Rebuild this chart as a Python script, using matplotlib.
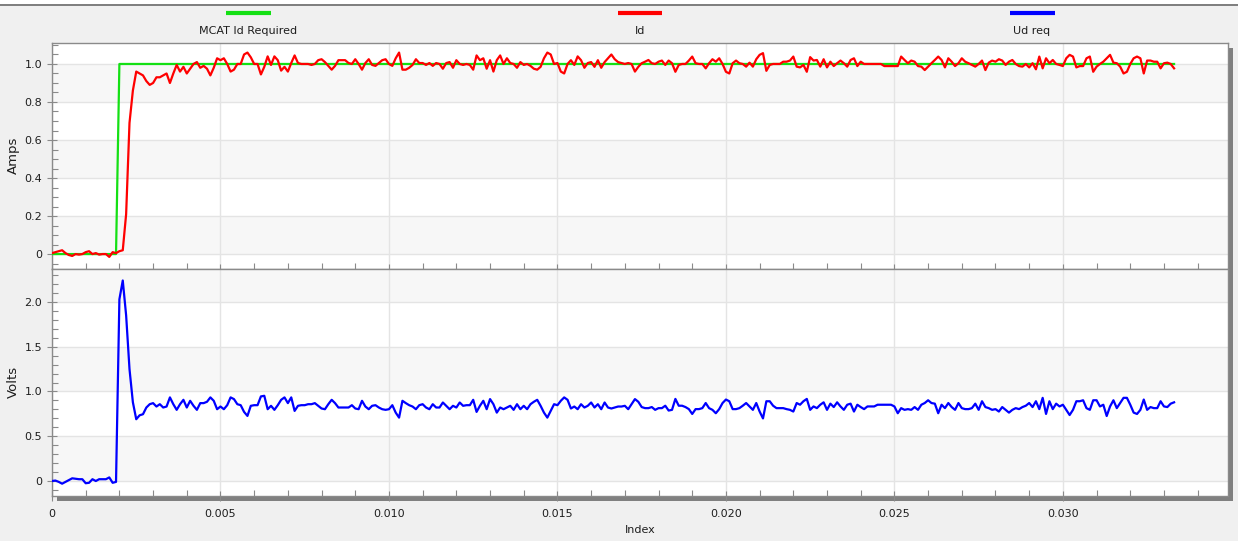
import numpy as np
import matplotlib
matplotlib.use("Agg")
import matplotlib.pyplot as plt
from matplotlib.patches import Rectangle
from matplotlib.lines import Line2D
from matplotlib.ticker import MultipleLocator, FuncFormatter

# ---------------------------------------------------------------- data
sample_period = 0.0001  # s between logged samples

# commanded d-axis current (setpoint changes)
id_required_times = [0.0, 0.0019, 0.0020, 0.0333]
id_required_levels = [0.0, 0.0, 1.0, 1.0]

# measured d-axis current [A]
id_measured = [
    0.005, 0.010, 0.015, 0.020, 0.005, -0.005, -0.010, 0.000, -0.003, 0.000,
    0.010, 0.015, 0.000, 0.005, -0.003, 0.000, 0.000, -0.015, 0.010, 0.005,
    0.015, 0.020,
    0.21, 0.69, 0.86, 0.96,
    0.95, 0.94, 0.91, 0.89, 0.90, 0.93, 0.93, 0.94, 0.95, 0.90,
    0.95, 0.995, 0.96, 0.985, 0.95, 0.975, 1.0, 1.01, 0.98, 0.99,
    0.975, 0.94, 0.98, 1.03, 1.02, 1.03, 1.0, 0.96, 0.97, 1.0,
    1.0, 1.05, 1.06, 1.035, 1.0, 1.0, 0.945, 0.985, 1.04, 0.995,
    1.04, 1.02, 0.965, 0.985, 0.96, 1.005, 1.045, 1.005, 1.0, 1.0,
    1.0, 0.995, 1.0, 1.02, 1.025, 1.01, 0.99, 0.97, 0.99, 1.02,
    1.02, 1.02, 1.005, 1.0, 1.025, 1.0, 0.97, 1.005, 1.025, 0.995,
    0.99, 1.005, 1.02, 1.025, 1.0, 0.99, 1.03, 1.06, 0.97, 0.97,
    0.98, 0.995, 1.025, 1.005, 1.005, 0.995, 1.005, 0.99, 1.005, 1.0,
    0.975, 1.005, 1.01, 0.98, 1.02, 1.0, 0.995, 1.0, 0.995, 0.97,
    1.045, 1.02, 1.03, 0.975, 1.02, 0.96, 1.02, 1.045, 1.0, 1.03,
    1.005, 1.0, 0.98, 1.01, 0.995, 1.0, 0.99, 0.975, 0.97, 0.985,
    1.03, 1.06, 1.05, 1.0, 1.005, 0.96, 0.95, 1.0, 1.02, 0.995,
    1.04, 1.02, 0.98, 1.005, 1.01, 0.985, 1.02, 0.98, 1.01, 1.03,
    1.05, 1.025, 1.01, 1.005, 1.0, 1.005, 1.0, 0.96, 0.985,
    1.004, 1.012, 1.021, 1.004, 1.0, 1.012, 1.018, 0.995, 1.018, 1.004,
    0.959, 0.995, 1.0, 1.0, 1.018, 1.039, 1.004, 1.0, 1.0, 0.977,
    1.004, 1.025, 1.012, 1.03, 1.0, 0.959, 0.95, 1.004, 1.018, 1.004,
    1.0, 0.986, 1.007, 0.986, 1.025, 1.048, 1.057, 0.964, 0.995, 1.0,
    1.0, 1.0, 1.012, 1.012, 1.018, 1.039, 0.986, 0.982, 0.995, 0.959,
    1.036, 1.018, 1.021, 0.986, 1.025, 0.982, 1.012, 0.989, 1.004, 1.018,
    1.004, 0.986, 1.021, 1.03, 0.989, 1.012, 1.0, 1.0, 1.0, 1.0,
    1.0, 1.0, 0.989, 0.989, 0.989, 0.989, 0.989, 1.039, 1.021, 1.004,
    1.018, 1.012, 0.989, 0.986, 0.968, 0.986, 1.004, 1.021, 1.039, 1.021,
    0.982, 1.03, 1.012, 0.989, 1.004, 1.03, 1.012, 1.004, 0.995, 0.986,
    1.0, 1.018, 0.968, 1.007, 1.018, 1.012, 1.025, 1.018, 0.995, 1.012,
    1.021, 1.0, 0.989, 0.986, 1.0, 0.982, 1.004, 0.972, 1.039, 0.977,
    1.03, 1.004, 1.021, 1.0, 0.995, 0.989, 1.03, 1.048, 1.039, 0.982,
    0.989, 0.989, 1.03, 1.039, 0.959, 0.986, 1.0, 1.012, 1.03, 1.048,
    1.007, 1.004, 0.986, 0.95, 0.959, 1.0, 1.03, 1.039, 1.03, 0.95,
    1.018, 1.018, 1.012, 1.012, 0.977, 1.004, 1.007, 1.0, 0.977,
]

# requested d-axis voltage [V]
ud_request = [
    0.0, 0.005, -0.01, -0.03, -0.01, 0.01, 0.03, 0.025, 0.02, 0.02,
    -0.025, -0.02, 0.02, 0.0, 0.02, 0.02, 0.02, 0.04, -0.02, -0.01,
    2.03, 2.24, 1.85, 1.25, 0.88, 0.69,
    0.734, 0.746, 0.821, 0.858, 0.870, 0.832, 0.858, 0.821, 0.832, 0.934,
    0.858, 0.795, 0.858, 0.907, 0.821, 0.896, 0.840, 0.795, 0.870, 0.870,
    0.885, 0.934, 0.896, 0.802, 0.832, 0.802, 0.847, 0.934, 0.915, 0.858,
    0.847, 0.772, 0.727, 0.840, 0.847, 0.847, 0.945, 0.952, 0.802, 0.840,
    0.795, 0.847, 0.907, 0.934, 0.870, 0.934, 0.783, 0.840, 0.847, 0.847,
    0.858, 0.858, 0.870, 0.840, 0.810, 0.802, 0.858, 0.907, 0.870, 0.821,
    0.821, 0.821, 0.821, 0.847, 0.810, 0.802, 0.896, 0.832, 0.802, 0.840,
    0.847, 0.821, 0.802, 0.795, 0.802, 0.847, 0.764, 0.708, 0.896, 0.870,
    0.847, 0.832, 0.802, 0.847, 0.858, 0.821, 0.802, 0.858, 0.821, 0.821,
    0.877, 0.840, 0.802, 0.840, 0.821, 0.877, 0.840, 0.847, 0.847, 0.907,
    0.772, 0.840, 0.896, 0.802, 0.915, 0.858, 0.764, 0.821, 0.802, 0.821,
    0.840, 0.795, 0.858, 0.802, 0.840, 0.802, 0.858, 0.885, 0.907, 0.840,
    0.764, 0.708, 0.783, 0.858, 0.847, 0.896, 0.934, 0.907, 0.810, 0.832,
    0.802, 0.858, 0.821, 0.840, 0.877, 0.821, 0.858, 0.802, 0.877, 0.821,
    0.810, 0.821, 0.832, 0.832, 0.840, 0.802, 0.858, 0.915, 0.885,
    0.826, 0.814, 0.814, 0.826, 0.795, 0.814, 0.814, 0.841, 0.787, 0.795,
    0.917, 0.841, 0.841, 0.826, 0.803, 0.749, 0.803, 0.803, 0.814, 0.871,
    0.814, 0.795, 0.757, 0.803, 0.871, 0.910, 0.891, 0.803, 0.803, 0.814,
    0.841, 0.871, 0.833, 0.795, 0.871, 0.776, 0.699, 0.891, 0.891, 0.841,
    0.814, 0.814, 0.814, 0.803, 0.795, 0.776, 0.871, 0.852, 0.891, 0.917,
    0.795, 0.833, 0.814, 0.852, 0.879, 0.795, 0.864, 0.826, 0.879, 0.833,
    0.795, 0.852, 0.864, 0.776, 0.852, 0.826, 0.803, 0.833, 0.833, 0.833,
    0.852, 0.852, 0.852, 0.852, 0.852, 0.833, 0.757, 0.814, 0.795, 0.803,
    0.795, 0.826, 0.795, 0.852, 0.871, 0.902, 0.871, 0.864, 0.757, 0.852,
    0.814, 0.871, 0.826, 0.795, 0.871, 0.814, 0.803, 0.803, 0.814, 0.864,
    0.795, 0.891, 0.826, 0.814, 0.795, 0.803, 0.776, 0.826, 0.795, 0.764,
    0.795, 0.814, 0.803, 0.826, 0.841, 0.871, 0.826, 0.891, 0.803, 0.929,
    0.749, 0.891, 0.803, 0.864, 0.833, 0.852, 0.795, 0.737, 0.795, 0.891,
    0.891, 0.902, 0.814, 0.795, 0.902, 0.902, 0.833, 0.852, 0.726, 0.833,
    0.902, 0.814, 0.871, 0.929, 0.929, 0.852, 0.764, 0.749, 0.795, 0.910,
    0.795, 0.826, 0.814, 0.814, 0.891, 0.833, 0.826, 0.864, 0.879,
]

series_labels = ["MCAT Id Required", "Id", "Ud req"]
series_colors = ["#14e014", "#ff0000", "#0000ff"]
top_ylabel = "Amps"
bottom_ylabel = "Volts"
xlabel = "Index"

t_id = np.arange(len(id_measured)) * sample_period
t_ud = np.arange(len(ud_request)) * sample_period

# ---------------------------------------------------------------- figure
W, H = 1238, 541
fig = plt.figure(figsize=(W / 100, H / 100), dpi=100, facecolor="#f0f0f0")
plt.rcParams["font.family"] = ["DejaVu Sans"]
TXT = "#1e1e1e"


def fx(px):
    return px / W


def fy(py):
    return 1 - py / H


# window frame strip at the very top
fig.patches.append(Rectangle((0, fy(4)), 1, 4 / H, transform=fig.transFigure,
                             facecolor="white", edgecolor="none", zorder=0))
fig.add_artist(Line2D([0, 1], [fy(4.5), fy(4.5)], transform=fig.transFigure,
                      color="#6a6a6a", lw=1.2, zorder=1))

L, R = 52, 1228
TOP, MID, BOT = 42.5, 268.5, 495.5

# drop shadow behind the plot frame
fig.patches.append(Rectangle((fx(L + 5), fy(BOT + 5)), (R - L) / W, (BOT - TOP) / H,
                             transform=fig.transFigure, facecolor="#808080",
                             edgecolor="none", zorder=0.5))

ax1 = fig.add_axes([fx(L), fy(MID), (R - L) / W, (MID - TOP) / H], zorder=2)
ax2 = fig.add_axes([fx(L), fy(BOT), (R - L) / W, (BOT - MID) / H], zorder=2)

BAND = "#f7f7f7"
GRID = "#e4e4e4"

for ax, bands in ((ax1, [(0.0, 0.2), (0.4, 0.6), (0.8, 1.0)]),
                  (ax2, [(0.0, 0.5), (1.0, 1.5), (2.0, 3.0)])):
    ax.set_facecolor("white")
    for lo, hi in bands:
        ax.axhspan(lo, hi, facecolor=BAND, edgecolor="none", zorder=0)
    ax.set_xlim(0, 0.0349)
    ax.xaxis.set_major_locator(MultipleLocator(0.005))
    ax.xaxis.set_minor_locator(MultipleLocator(0.001))
    ax.grid(True, which="major", color=GRID, lw=1.0, zorder=0.5)
    ax.set_axisbelow(True)
    for s in ax.spines.values():
        s.set_color("#8a8a8a")
        s.set_linewidth(1.0)
    ax.tick_params(which="major", direction="inout", length=7, width=0.8,
                   color="#8a8a8a", labelsize=8, labelcolor=TXT)
    ax.tick_params(which="minor", direction="in", length=4.5, width=0.8,
                   color="#8a8a8a")
    ax.tick_params(axis="y", which="major", pad=3.5)
    ax.tick_params(axis="x", which="major", pad=6)

ax1.set_ylim(-0.076, 1.113)
ax1.yaxis.set_major_locator(MultipleLocator(0.2))
ax1.yaxis.set_minor_locator(MultipleLocator(0.05))
ax1.yaxis.set_major_formatter(FuncFormatter(lambda v, p: "0" if abs(v) < 1e-9 else f"{v:.1f}"))
ax1.tick_params(axis="x", labelbottom=False)

ax2.set_ylim(-0.162, 2.374)
ax2.yaxis.set_major_locator(MultipleLocator(0.5))
ax2.yaxis.set_minor_locator(MultipleLocator(0.1))
ax2.yaxis.set_major_formatter(FuncFormatter(lambda v, p: "0" if abs(v) < 1e-9 else f"{v:.1f}"))
ax2.xaxis.set_major_formatter(FuncFormatter(lambda v, p: "0" if abs(v) < 1e-12 else f"{v:.3f}"))

# traces
ax1.plot(id_required_times, id_required_levels, color=series_colors[0], lw=1.6, zorder=3)
ax1.plot(t_id, id_measured, color=series_colors[1], lw=1.6, zorder=4)
ax2.plot(t_ud, ud_request, color=series_colors[2], lw=1.6, zorder=3)

# axis titles
fig.text(fx(13), fy((TOP + MID) / 2), top_ylabel, rotation=90, ha="center",
         va="center", fontsize=9.5, color=TXT)
fig.text(fx(13), fy((MID + BOT) / 2), bottom_ylabel, rotation=90, ha="center",
         va="center", fontsize=9.5, color=TXT)
fig.text(fx((L + R) / 2), fy(530), xlabel, ha="center", va="center",
         fontsize=8, color=TXT)

# legend: three evenly spaced entries above the plot
col_w = (R - L) / len(series_labels)
for i, (lab, col) in enumerate(zip(series_labels, series_colors)):
    cx = L + col_w * (i + 0.5)
    fig.add_artist(Line2D([fx(cx - 22.5), fx(cx + 22.5)], [fy(13.3), fy(13.3)],
                          transform=fig.transFigure, color=col, lw=3.0,
                          solid_capstyle="butt"))
    fig.text(fx(cx), fy(31), lab, ha="center", va="center", fontsize=8, color=TXT)

fig.savefig("out.png", dpi=100, facecolor=fig.get_facecolor())
